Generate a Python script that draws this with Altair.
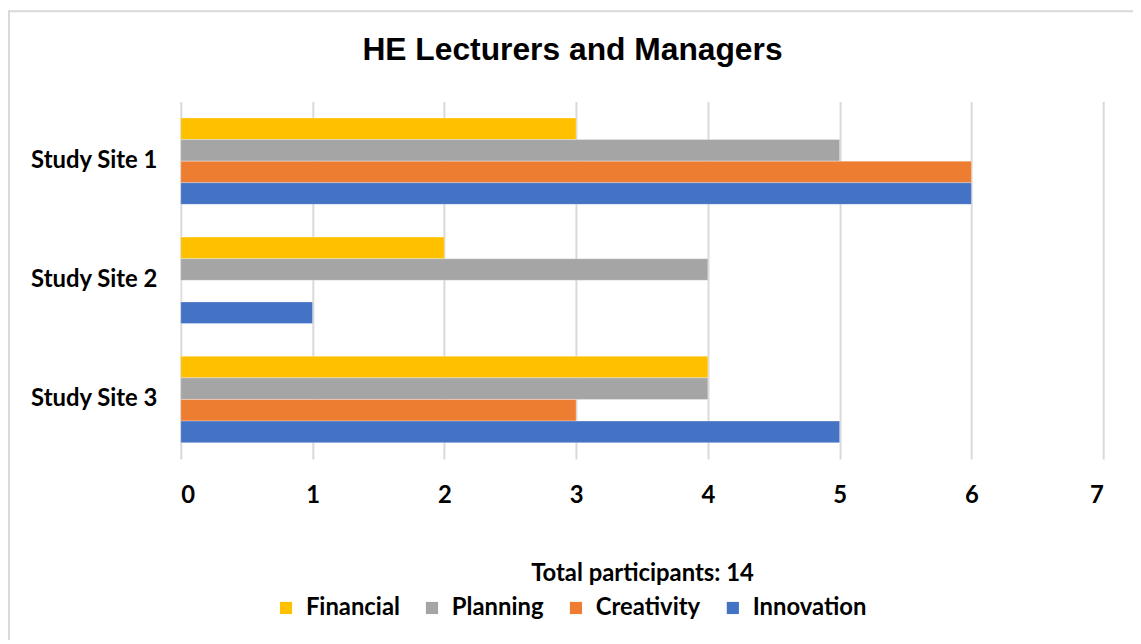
import altair as alt
import pandas as pd

sites = ["Study Site 1", "Study Site 2", "Study Site 3"]
series = ["Financial", "Planning", "Creativity", "Innovation"]
colors = ["#FFC000", "#A5A5A5", "#ED7D31", "#4472C4"]
financial = [3, 2, 4]
planning = [5, 4, 4]
creativity = [6, 0, 3]
innovation = [6, 1, 5]

values = {"Financial": financial, "Planning": planning,
          "Creativity": creativity, "Innovation": innovation}
rows = []
for s in series:
    for i, site in enumerate(sites):
        rows.append({"site": site, "series": s, "value": values[s][i]})
df = pd.DataFrame(rows)

FONT = "Lato"
FS = 24

bars = alt.Chart(df).mark_bar(stroke="white", strokeWidth=0.5, strokeOpacity=0.6).encode(
    y=alt.Y("site:N", sort=sites, title=None,
            scale=alt.Scale(paddingInner=0.275, paddingOuter=0.1375),
            axis=alt.Axis(labelFont=FONT, labelFontSize=FS, labelFontWeight="bold",
                          labelColor="black", labelPadding=24, ticks=False,
                          domain=False, grid=False)),
    yOffset=alt.YOffset("series:N", sort=series,
                        scale=alt.Scale(paddingInner=0, paddingOuter=0)),
    x=alt.X("value:Q", title="Total participants: 14",
            scale=alt.Scale(domain=[0, 7]),
            axis=alt.Axis(values=list(range(8)), tickCount=8, format="d",
                          labelFont=FONT, labelFontSize=FS, labelFontWeight="bold",
                          labelColor="black", labelPadding=25, ticks=False, domain=False,
                          grid=True, gridColor="#D9D9D9", gridWidth=2,
                          titleFont=FONT, titleFontSize=FS, titleFontWeight="bold",
                          titleColor="black", titlePadding=54)),
    color=alt.Color("series:N", sort=series,
                    scale=alt.Scale(domain=series, range=colors),
                    legend=alt.Legend(orient="none", direction="horizontal",
                                      legendX=94, legendY=498, title=None,
                                      symbolType="square", symbolSize=150,
                                      symbolStrokeWidth=0,
                                      labelFont=FONT, labelFontSize=FS,
                                      labelFontWeight="bold", labelColor="black",
                                      columnPadding=20, labelOffset=8)),
)

border = alt.Chart(alt.Data(values=[{}])).mark_rect(
    fill=None, stroke="#D9D9D9", strokeWidth=2).encode(
    x=alt.value(-173), x2=alt.value(980), y=alt.value(-91), y2=alt.value(560))

chart = alt.layer(border, bars).properties(
    width=929, height=360,
    padding={"left": 174, "top": 92, "right": 30, "bottom": 180},
    autosize=alt.AutoSizeParams(type="none"),
    title=alt.TitleParams("HE Lecturers and Managers", font="Liberation Sans",
                          fontSize=32, fontWeight="bold", color="black",
                          anchor="middle", dx=-70, offset=-57),
).configure_view(stroke=None)

chart.save("out.html", embed_options={"renderer": "svg", "actions": False})
